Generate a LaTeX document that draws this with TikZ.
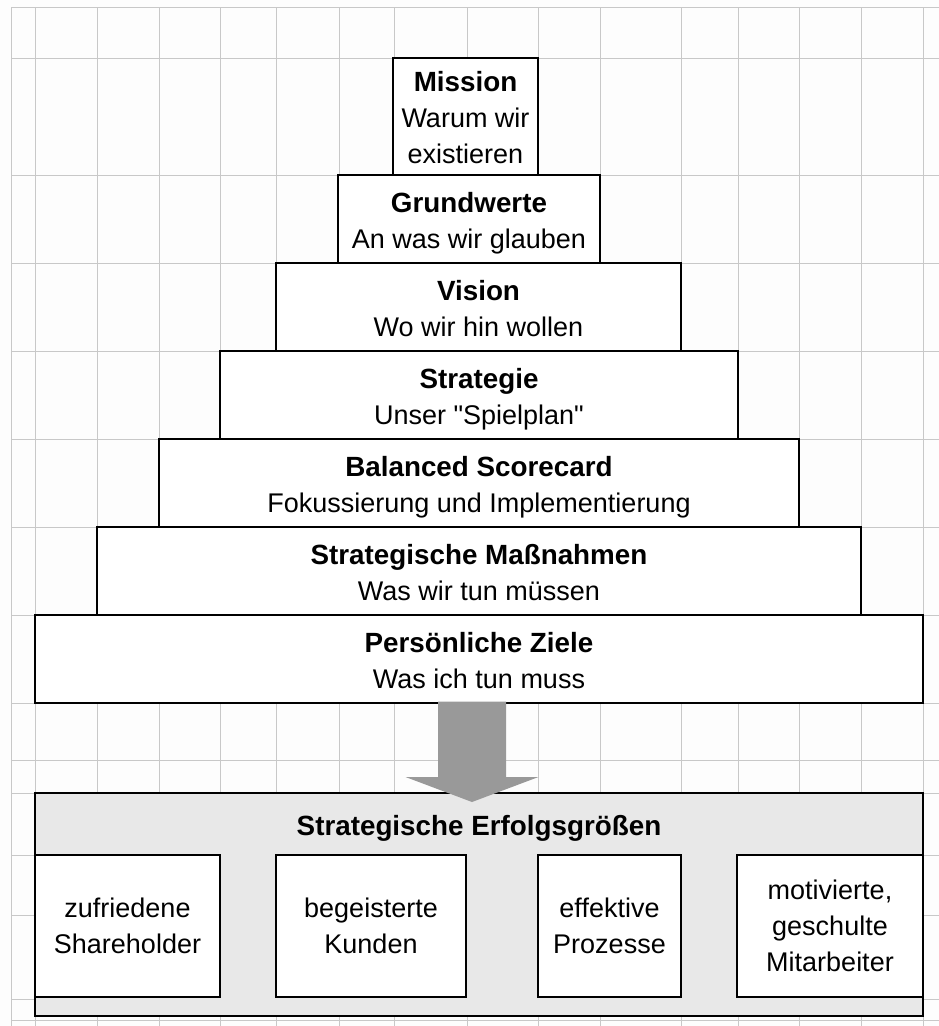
\documentclass[tikz,border=0pt]{standalone}
\usepackage{fontspec}
\setmainfont{Liberation Sans}
% same face without the TeX input mapping, so " stays a straight quote
\newfontfamily\rawquote{Liberation Sans}
\usetikzlibrary{calc}
\definecolor{gridgray}{HTML}{C8C8C8}
\definecolor{panelgray}{HTML}{E8E8E8}
\definecolor{arrowgray}{HTML}{999999}
\definecolor{paper}{HTML}{FDFDFD}
% headings are set a touch larger than the plain lines
\newcommand\headfont{\fontsize{27.8}{36}\selectfont\bfseries}
% bold heading line followed by a plain line, with fixed top and bottom extents
\newcommand\tierlabel[2]{\rule{0pt}{28.5pt}{\headfont #1}\\#2\vphantom{g}}

\begin{document}
\begin{tikzpicture}[x=1pt,y=-1pt,
  gridline/.style={draw=gridgray, line width=1pt},
  tier/.style={draw=black, line width=2.3pt, fill=white, inner sep=0pt,
    outer sep=0pt, align=center, font=\fontsize{27}{36}\selectfont},
  panel/.style={tier, fill=panelgray},
  factor/.style={tier},
  panelhead/.style={inner sep=0pt, font=\headfont},
  blockarrow/.style={fill=arrowgray}]

% sheet background and cell grid
\fill[paper] (0,0) rectangle (939,1026);
\useasboundingbox (0,0) rectangle (939,1026);
\foreach \gx in {11,35,97,159,220,276,339,394,467,538,600,681,738,799,861,923}
  \draw[gridline] (\gx,7) -- (\gx,1026);
\foreach \gy in {7,58,175,263,351,439,527,615,703,760,793,855,915,999,1020}
  \draw[gridline] (11,\gy) -- (939,\gy);

% pyramid tiers
\node[tier, minimum width=145pt, minimum height=117pt] (mission) at (465.5,116.5)
  {\rule{0pt}{28.5pt}{\headfont Mission}\\Warum wir\\existieren\vphantom{g}};
\node[tier, minimum width=262pt, minimum height=88pt] (grundwerte) at (469,219)
  {\tierlabel{Grundwerte}{An was wir glauben}};
\node[tier, minimum width=405pt, minimum height=88pt] (vision) at (478.5,307)
  {\tierlabel{Vision}{Wo wir hin wollen}};
\node[tier, minimum width=518pt, minimum height=88pt] (strategie) at (479,395)
  {\tierlabel{Strategie}{\rawquote Unser "Spielplan"}};
\node[tier, minimum width=640pt, minimum height=88pt] (bsc) at (479,483)
  {\tierlabel{Balanced Scorecard}{Fokussierung und Implementierung}};
\node[tier, minimum width=764pt, minimum height=88pt] (massnahmen) at (479,571)
  {\tierlabel{Strategische Maßnahmen}{Was wir tun müssen}};
\node[tier, minimum width=888pt, minimum height=88pt] (ziele) at (479,659)
  {\tierlabel{Persönliche Ziele}{Was ich tun muss}};

% success factors panel
\node[panel, minimum width=888pt, minimum height=223pt] (erfolg) at (479,904.5) {};
\node[panelhead] (erfolg-title) at (479,828) {Strategische Erfolgsgrößen};
\node[factor, minimum width=185pt, minimum height=142pt] (shareholder) at (127.5,926)
  {zufriedene\\Shareholder};
\node[factor, minimum width=190pt, minimum height=142pt] (kunden) at (371,926)
  {begeisterte\\Kunden};
\node[factor, minimum width=143pt, minimum height=142pt] (prozesse) at (609.5,926)
  {effektive\\Prozesse};
\node[factor, minimum width=186pt, minimum height=142pt] (mitarbeiter) at (830,926)
  {motivierte,\\geschulte\\Mitarbeiter};

% block arrow from the pyramid base down into the panel
\coordinate (arrow-top) at ($(ziele.south)+(-7,0)$);
\coordinate (arrow-tip) at ($(erfolg.north)+(-7,9)$);
\fill[blockarrow]
  ($(arrow-top)+(-34,-1.5)$) -- ($(arrow-top)+(34,-1.5)$)
  -- ($(arrow-tip)+(34,-25)$) -- ($(arrow-tip)+(66.5,-25)$)
  -- (arrow-tip)
  -- ($(arrow-tip)+(-66.5,-25)$) -- ($(arrow-tip)+(-34,-25)$) -- cycle;
\end{tikzpicture}
\end{document}
